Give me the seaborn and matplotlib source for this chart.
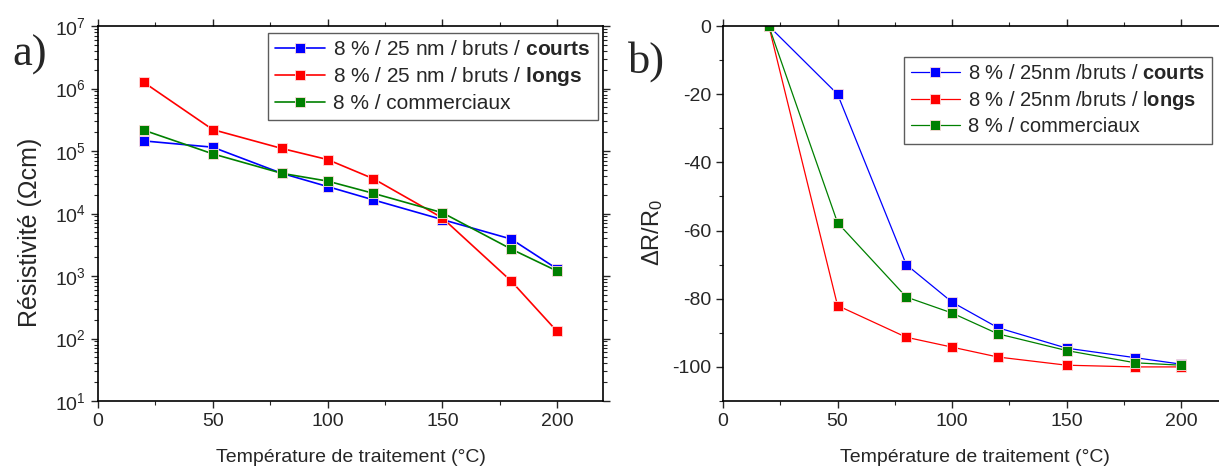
import matplotlib

matplotlib.use("Agg")
import matplotlib.pyplot as plt
import numpy as np
import pandas as pd
import seaborn as sns
from matplotlib.ticker import MultipleLocator, LogLocator, NullFormatter

temperatures = [20, 50, 80, 100, 120, 150, 180, 200]

# panel a) resistivity (Ohm.cm)
rho_courts = [1.45e5, 1.15e5, 4.4e4, 2.7e4, 1.65e4, 8.0e3, 3.9e3, 1.3e3]
rho_longs = [1.25e6, 2.2e5, 1.1e5, 7.3e4, 3.6e4, 8.5e3, 830, 130]
rho_comm = [2.15e5, 9.0e4, 4.4e4, 3.3e4, 2.1e4, 1.03e4, 2.7e3, 1.2e3]

# panel b) dR/R0
drr_courts = [0, -20, -70, -81, -88.5, -94.5, -97.3, -99.2]
drr_longs = [0, -82, -91.3, -94.2, -97.1, -99.5, -100, -100]
drr_comm = [0, -57.7, -79.5, -84.2, -90.3, -95.2, -98.8, -99.5]

series = ["courts", "longs", "comm"]
colors = {"courts": "#0000ff", "longs": "#ff0000", "comm": "#008000"}
labels_a = [
    r"8 % / 25 nm / bruts / $\mathbf{courts}$",
    r"8 % / 25 nm / bruts / $\mathbf{longs}$",
    "8 % / commerciaux",
]
labels_b = [
    r"8 % / 25nm /bruts / $\mathbf{courts}$",
    r"8 % / 25nm /bruts / l$\mathbf{ongs}$",
    "8 % / commerciaux",
]
decades = [10, 1e2, 1e3, 1e4, 1e5, 1e6, 1e7]


def long_df(values: list[list[float]]) -> pd.DataFrame:
    frames = []
    for name, vals in zip(series, values):
        frames.append(pd.DataFrame({"T": temperatures, "v": vals, "serie": name}))
    return pd.concat(frames, ignore_index=True)


df_a = long_df([rho_courts, rho_longs, rho_comm])
df_b = long_df([drr_courts, drr_longs, drr_comm])

sns.set_style("ticks")
plt.rcParams["font.family"] = ["Liberation Sans", "DejaVu Sans"]
plt.rcParams["mathtext.fontset"] = "custom"
plt.rcParams["mathtext.rm"] = "Liberation Sans"
plt.rcParams["mathtext.it"] = "Liberation Sans:italic"
plt.rcParams["mathtext.bf"] = "Liberation Sans:bold"
plt.rcParams["axes.unicode_minus"] = False

fig = plt.figure(figsize=(12.19, 4.69), dpi=100)
ax_a = fig.add_axes([98 / 1219, 68 / 469, 505 / 1219, 375 / 469])
ax_b = fig.add_axes([723 / 1219, 68 / 469, 504 / 1219, 375 / 469])

line_kw = dict(marker="s", markersize=7, markeredgecolor="#ffdddd", markeredgewidth=0.6)

sns.lineplot(data=df_a, x="T", y="v", hue="serie", palette=colors, ax=ax_a,
             legend=False, linewidth=1.2, **line_kw)
sns.lineplot(data=df_b, x="T", y="v", hue="serie", palette=colors, ax=ax_b,
             legend=False, linewidth=0.9, **line_kw)

leg_kw = dict(frameon=True, fancybox=False, edgecolor="#333333",
              handlelength=2.4, labelspacing=0.28, borderpad=0.35,
              handletextpad=0.4, borderaxespad=0.0)

# panel a
ax_a.set_yscale("log")
ax_a.set_ylim(10, 1e7)
ax_a.set_xlim(0, 220)
ax_a.set_yticks(decades)
ax_a.yaxis.set_minor_locator(LogLocator(base=10, subs=np.arange(2, 10), numticks=20))
ax_a.yaxis.set_minor_formatter(NullFormatter())
ax_a.set_ylabel("Résistivité (Ωcm)", fontsize=18)
ax_a.yaxis.set_label_coords(-0.11, 0.45)
ax_a.legend(handles=ax_a.lines, labels=labels_a, loc="upper right",
            bbox_to_anchor=(0.990, 0.981), fontsize=15, **leg_kw)

# panel b
ax_b.set_ylim(-110, 0)
ax_b.set_xlim(0, 220)
ax_b.set_yticks([-100, -80, -60, -40, -20, 0])
ax_b.yaxis.set_minor_locator(MultipleLocator(10))
ax_b.set_ylabel(r"$\Delta$R/R$_0$", fontsize=17)
ax_b.yaxis.set_label_coords(-0.115, 0.45)
ax_b.legend(handles=ax_b.lines, labels=labels_b, loc="upper right",
            bbox_to_anchor=(0.970, 0.917), fontsize=14.5, **leg_kw)

for ax in (ax_a, ax_b):
    ax.set_xticks([0, 50, 100, 150, 200])
    ax.xaxis.set_minor_locator(MultipleLocator(25))
    ax.set_xlabel("Température de traitement (°C)", fontsize=14, labelpad=14)
    ax.tick_params(axis="both", which="major", labelsize=14, direction="out",
                   length=5, width=1, top=True, right=True)
    ax.tick_params(axis="both", which="minor", direction="out", length=3,
                   width=0.8, top=True, right=True)
    for sp in ax.spines.values():
        sp.set_linewidth(1.2)
        sp.set_color("black")

fig.text(12 / 1219, 1 - 55 / 469, "a)", fontsize=32, family="Liberation Serif",
         va="center", ha="left")
fig.text(628 / 1219, 1 - 62 / 469, "b)", fontsize=32, family="Liberation Serif",
         va="center", ha="left")

fig.savefig("out.png", dpi=100)
